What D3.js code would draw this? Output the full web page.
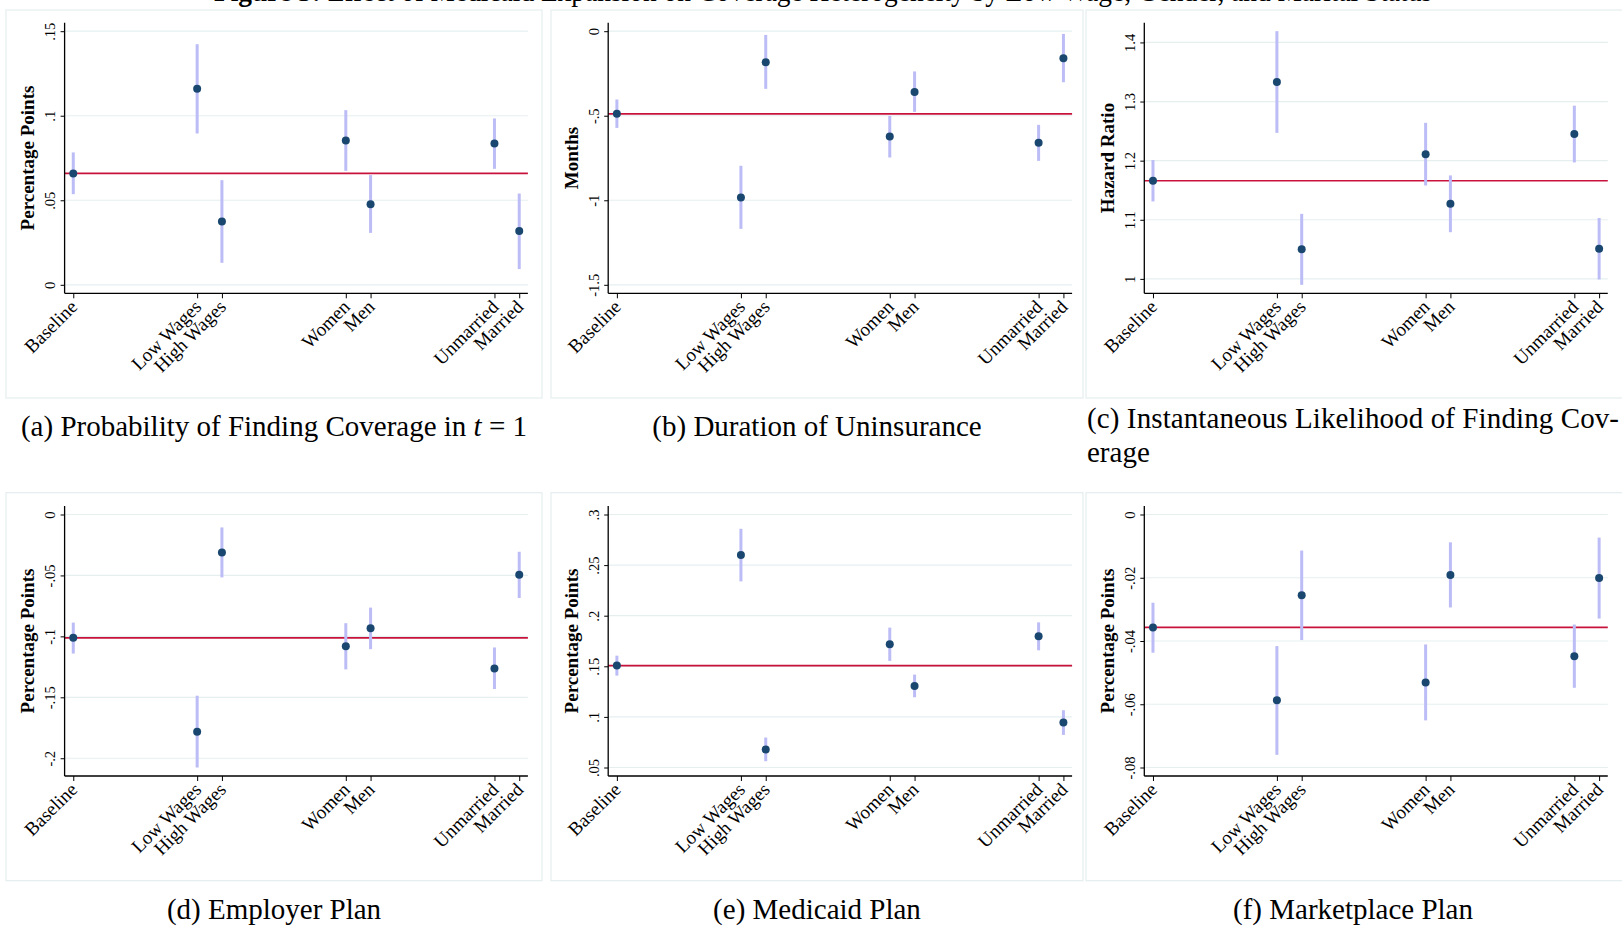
<!DOCTYPE html>
<html>
<head>
<meta charset="utf-8">
<script src="https://cdn.jsdelivr.net/npm/d3@7"></script>
<style>
  body { margin: 0; background: #fff; }
  svg { display: block; }
  text { font-family: "Liberation Serif", "Times New Roman", serif; fill: #000; }
</style>
</head>
<body>
<svg id="chart" width="1622" height="926"></svg>
<script>
// categories and their positions on the x axis (Stata style gaps between groups)
const categories = ["Baseline", "Low Wages", "High Wages", "Women", "Men", "Unmarried", "Married"];
const catPos = [0, 5, 6, 11, 12, 17, 18];

// (a) probability of finding coverage in t = 1
const probEst = [0.0659, 0.1159, 0.0375, 0.0854, 0.0477, 0.0836, 0.0318];
const probLo  = [0.0536, 0.0895, 0.0130, 0.0674, 0.0307, 0.0686, 0.0093];
const probHi  = [0.0783, 0.1423, 0.0619, 0.1033, 0.0649, 0.0984, 0.0540];
const probTicks = [0, 0.05, 0.1, 0.15];
const probTickLabels = ["0", ".05", ".1", ".15"];

// (b) duration of uninsurance
const durEst = [-0.489, -0.984, -0.183, -0.623, -0.359, -0.660, -0.160];
const durLo  = [-0.572, -1.169, -0.341, -0.747, -0.477, -0.767, -0.302];
const durHi  = [-0.404, -0.796, -0.022, -0.501, -0.238, -0.554, -0.016];
const durTicks = [-1.5, -1, -0.5, 0];
const durTickLabels = ["-1.5", "-1", "-.5", "0"];

// (c) hazard ratio
const hazEst = [1.166, 1.333, 1.050, 1.211, 1.127, 1.245, 1.051];
const hazLo  = [1.131, 1.247, 0.990, 1.158, 1.079, 1.197, 0.999];
const hazHi  = [1.201, 1.419, 1.110, 1.264, 1.175, 1.293, 1.103];
const hazTicks = [1, 1.1, 1.2, 1.3, 1.4];
const hazTickLabels = ["1", "1.1", "1.2", "1.3", "1.4"];

// (d) employer plan
const empEst = [-0.1012, -0.1782, -0.0311, -0.1081, -0.0933, -0.1263, -0.0494];
const empLo  = [-0.1141, -0.2076, -0.0516, -0.1271, -0.1105, -0.1432, -0.0685];
const empHi  = [-0.0887, -0.1487, -0.0106, -0.0892, -0.0764, -0.1091, -0.0306];
const empTicks = [-0.2, -0.15, -0.1, -0.05, 0];
const empTickLabels = ["-.2", "-.15", "-.1", "-.05", "0"];

// (e) medicaid plan
const medEst = [0.1507, 0.2599, 0.0678, 0.1717, 0.1306, 0.1796, 0.0944];
const medLo  = [0.1408, 0.2339, 0.0562, 0.1553, 0.1194, 0.1658, 0.0822];
const medHi  = [0.1605, 0.2859, 0.0796, 0.1882, 0.1418, 0.1934, 0.1066];
const medTicks = [0.05, 0.1, 0.15, 0.2, 0.25, 0.3];
const medTickLabels = [".05", ".1", ".15", ".2", ".25", ".3"];

// (f) marketplace plan
const mktEst = [-0.0357, -0.0587, -0.0255, -0.0531, -0.0191, -0.0448, -0.0201];
const mktLo  = [-0.0437, -0.0760, -0.0397, -0.0651, -0.0294, -0.0548, -0.0329];
const mktHi  = [-0.0279, -0.0416, -0.0114, -0.0411, -0.0088, -0.0348, -0.0073];
const mktTicks = [-0.08, -0.06, -0.04, -0.02, 0];
const mktTickLabels = ["-.08", "-.06", "-.04", "-.02", "0"];

const svg = d3.select("#chart");

// figure title, cut off at the top edge as in the source page
svg.append("text")
  .attr("x", 214).attr("y", 0.5)
  .attr("textLength", 1218).attr("lengthAdjust", "spacingAndGlyphs")
  .style("font-size", "29px")
  .call(t => {
    t.append("tspan").style("font-weight", "bold").text("Figure 5:");
    t.append("tspan").text(" Effect of Medicaid Expansion on Coverage Heterogeneity by Low Wage, Gender, and Marital Status");
  });

const cols = [
  { boxX: 6, boxW: 536, left: 64.6, right: 527.9 },
  { boxX: 551, boxW: 532, left: 608.2, right: 1072.1 },
  { boxX: 1086, boxW: 560, left: 1144.3, right: 1607.8 }
];
const rows = [
  { boxY: 10, boxH: 388, top: 22.7, bottom: 293.3 },
  { boxY: 492.7, boxH: 388, top: 506, bottom: 776 }
];

const panels = [
  { col: 0, row: 0, est: probEst, lo: probLo, hi: probHi, ticks: probTicks, labels: probTickLabels, ytitle: "Percentage Points" },
  { col: 1, row: 0, est: durEst, lo: durLo, hi: durHi, ticks: durTicks, labels: durTickLabels, ytitle: "Months" },
  { col: 2, row: 0, est: hazEst, lo: hazLo, hi: hazHi, ticks: hazTicks, labels: hazTickLabels, ytitle: "Hazard Ratio" },
  { col: 0, row: 1, est: empEst, lo: empLo, hi: empHi, ticks: empTicks, labels: empTickLabels, ytitle: "Percentage Points" },
  { col: 1, row: 1, est: medEst, lo: medLo, hi: medHi, ticks: medTicks, labels: medTickLabels, ytitle: "Percentage Points" },
  { col: 2, row: 1, est: mktEst, lo: mktLo, hi: mktHi, ticks: mktTicks, labels: mktTickLabels, ytitle: "Percentage Points" }
];

panels.forEach(p => {
  const c = cols[p.col], r = rows[p.row];
  const g = svg.append("g");

  g.append("rect")
    .attr("x", c.boxX).attr("y", r.boxY)
    .attr("width", c.boxW).attr("height", r.boxH)
    .attr("fill", "#fff").attr("stroke", "#e5edef").attr("stroke-width", 1.2);

  const x = d3.scaleLinear().domain([-0.35, 18.35]).range([c.left, c.right]);
  // Stata: range covers ticks and data, with a small margin inside the plot region
  const ext = d3.extent(p.ticks.concat(p.lo, p.hi));
  const y = d3.scaleLinear().domain(ext).range([r.bottom - 8.5, r.top + 8.5]);

  // gridlines
  g.selectAll(".grid").data(p.ticks).enter().append("line")
    .attr("x1", c.left).attr("x2", c.right)
    .attr("y1", d => y(d)).attr("y2", d => y(d))
    .attr("stroke", "#e6eff0").attr("stroke-width", 1.2);

  // baseline reference line
  g.append("line")
    .attr("x1", c.left).attr("x2", c.right)
    .attr("y1", y(p.est[0])).attr("y2", y(p.est[0]))
    .attr("stroke", "#c8123c").attr("stroke-width", 1.6);

  // confidence intervals
  g.selectAll(".ci").data(catPos).enter().append("line")
    .attr("x1", d => x(d)).attr("x2", d => x(d))
    .attr("y1", (d, i) => y(p.lo[i])).attr("y2", (d, i) => y(p.hi[i]))
    .attr("stroke", "#bcbcf6").attr("stroke-width", 3);

  // point estimates
  g.selectAll(".pt").data(catPos).enter().append("circle")
    .attr("cx", d => x(d)).attr("cy", (d, i) => y(p.est[i]))
    .attr("r", 4).attr("fill", "#1a476f");

  // y axis
  const yAxis = d3.axisLeft(y).tickValues(p.ticks)
    .tickFormat((d, i) => p.labels[i]).tickSize(4).tickSizeOuter(0);
  const ya = g.append("g").attr("transform", `translate(${c.left},0)`).call(yAxis);
  ya.select(".domain").remove();
  ya.selectAll(".tick line").attr("stroke", "#000");
  ya.selectAll(".tick text")
    .attr("x", 0).attr("dy", 0)
    .attr("transform", "translate(-9.5,0) rotate(-90)")
    .attr("text-anchor", "middle")
    .style("font-family", "Liberation Serif, serif")
    .style("font-size", "14.5px");
  g.append("line")
    .attr("x1", c.left).attr("x2", c.left).attr("y1", r.top).attr("y2", r.bottom)
    .attr("stroke", "#000").attr("stroke-width", 1.3);

  // x axis
  const xAxis = d3.axisBottom(x).tickValues(catPos)
    .tickFormat((d, i) => categories[i]).tickSize(5).tickSizeOuter(0);
  const xa = g.append("g").attr("transform", `translate(0,${r.bottom})`).call(xAxis);
  xa.select(".domain").remove();
  xa.selectAll(".tick line").attr("stroke", "#000");
  xa.selectAll(".tick text")
    .attr("y", 0).attr("dy", "0.35em")
    .attr("transform", "translate(0,10) rotate(-45)")
    .attr("text-anchor", "end")
    .style("font-family", "Liberation Serif, serif")
    .style("font-size", "19px");
  g.append("line")
    .attr("x1", c.left).attr("x2", c.right).attr("y1", r.bottom).attr("y2", r.bottom)
    .attr("stroke", "#000").attr("stroke-width", 1.3);

  // y title
  g.append("text")
    .attr("transform", `translate(${c.left - 30.5},${(r.top + r.bottom) / 2}) rotate(-90)`)
    .attr("text-anchor", "middle")
    .style("font-weight", "bold").style("font-size", "19px")
    .text(p.ytitle);
});

// sub-captions
const capSize = "29px";
const capA = svg.append("text").attr("x", 274).attr("y", 436)
  .attr("text-anchor", "middle").style("font-size", capSize);
capA.append("tspan").text("(a) Probability of Finding Coverage in ");
capA.append("tspan").style("font-style", "italic").text("t");
capA.append("tspan").text(" = 1");

svg.append("text").attr("x", 817).attr("y", 436)
  .attr("text-anchor", "middle").style("font-size", capSize)
  .text("(b) Duration of Uninsurance");

svg.append("text").attr("x", 1087).attr("y", 428)
  .attr("textLength", 532).attr("lengthAdjust", "spacing")
  .style("font-size", capSize)
  .text("(c) Instantaneous Likelihood of Finding Cov-");
svg.append("text").attr("x", 1087).attr("y", 462)
  .style("font-size", capSize)
  .text("erage");

svg.append("text").attr("x", 274).attr("y", 919)
  .attr("text-anchor", "middle").style("font-size", capSize)
  .text("(d) Employer Plan");
svg.append("text").attr("x", 817).attr("y", 919)
  .attr("text-anchor", "middle").style("font-size", capSize)
  .text("(e) Medicaid Plan");
svg.append("text").attr("x", 1353).attr("y", 919)
  .attr("text-anchor", "middle").style("font-size", capSize)
  .text("(f) Marketplace Plan");
</script>
</body>
</html>
